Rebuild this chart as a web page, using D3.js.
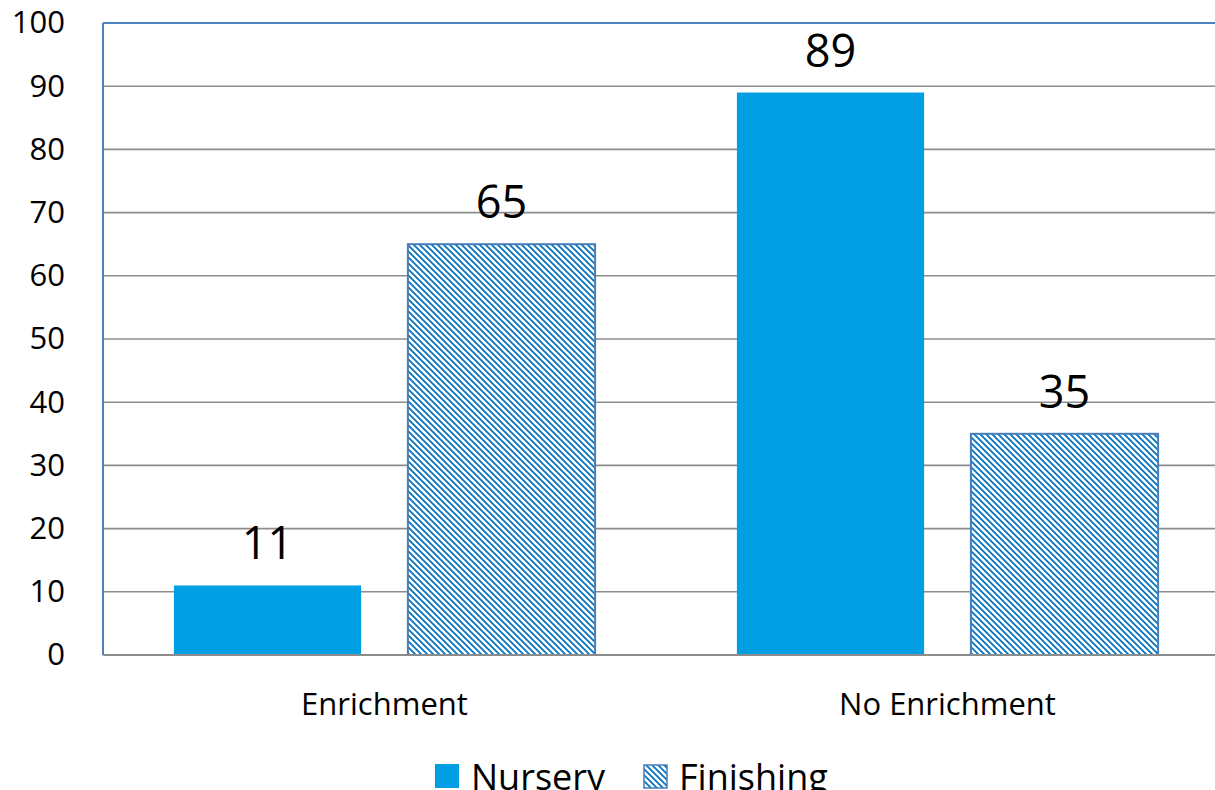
<!DOCTYPE html>
<html>
<head>
<meta charset="utf-8">
<script src="https://cdn.jsdelivr.net/npm/d3@7"></script>
<style>
  body { margin: 0; background: #fff; }
  text { font-family: "Open Sans", sans-serif; fill: #000; }
</style>
</head>
<body>
<div class="plot"></div>
<script>
// data
const categories = ["Enrichment", "No Enrichment"];
const seriesNames = ["Nursery", "Finishing"];
const nursery = [11, 89];
const finishing = [65, 35];
const yTicks = [0, 10, 20, 30, 40, 50, 60, 70, 80, 90, 100];

const W = 1215, H = 790;
const plot = {left: 103, top: 23, bottom: 655, catWidth: 563};

const svg = d3.select(".plot")
    .append("svg")
        .attr("width", W)
        .attr("height", H);

// hatch pattern for the Finishing bars
const defs = svg.append("defs");
const pat = defs.append("pattern")
    .attr("id", "hatch")
    .attr("patternUnits", "userSpaceOnUse")
    .attr("width", 6)
    .attr("height", 6);
pat.append("rect").attr("width", 6).attr("height", 6).attr("fill", "#fff");
pat.append("path")
    .attr("d", "M-1,-1 L7,7 M-4,2 L2,8 M4,-2 L8,2")
    .attr("stroke", "#0070c0")
    .attr("stroke-width", 1.7);

// scales
const x0 = d3.scaleBand()
    .domain(categories)
    .range([plot.left, plot.left + plot.catWidth * categories.length]);

const x1 = d3.scaleBand()
    .domain(seriesNames)
    .range([0, x0.bandwidth()])
    .paddingInner(0.2)
    .paddingOuter(0.303);

const y = d3.scaleLinear()
    .domain([0, 100])
    .range([plot.bottom, plot.top]);

const plotRight = x0.range()[1];

// gridlines
svg.append("g")
    .selectAll("line")
    .data(yTicks.filter(d => d > 0 && d < 100))
    .enter()
    .append("line")
        .attr("x1", plot.left)
        .attr("x2", plotRight)
        .attr("y1", d => y(d))
        .attr("y2", d => y(d))
        .attr("stroke", "#8c8c8c")
        .attr("stroke-width", 1.6);

// plot area border (top + left, blue)
svg.append("line")
    .attr("x1", plot.left).attr("x2", plotRight)
    .attr("y1", y(100)).attr("y2", y(100))
    .attr("stroke", "#4f81bd").attr("stroke-width", 2);
svg.append("line")
    .attr("x1", plot.left).attr("x2", plot.left)
    .attr("y1", y(100)).attr("y2", y(0))
    .attr("stroke", "#4f81bd").attr("stroke-width", 2);

// y axis labels
const yAxis = svg.append("g")
    .attr("transform", "translate(" + plot.left + ",0)")
    .call(d3.axisLeft(y).tickValues(yTicks).tickSize(0).tickPadding(38));
yAxis.select(".domain").remove();
yAxis.selectAll("text")
    .style("font-size", "31px")
    .style("font-family", "'Open Sans', sans-serif")
    .attr("fill", "#000");

// bars
const rows = categories.map((c, i) => ({cat: c, values: [nursery[i], finishing[i]]}));

const groups = svg.selectAll(".cat")
    .data(rows)
    .enter()
    .append("g")
        .attr("class", "cat")
        .attr("transform", d => "translate(" + x0(d.cat) + ",0)");

groups.selectAll("rect")
    .data(d => d.values.map((v, j) => ({s: seriesNames[j], v: v})))
    .enter()
    .append("rect")
        .attr("x", d => x1(d.s))
        .attr("y", d => y(d.v))
        .attr("width", x1.bandwidth())
        .attr("height", d => y(0) - y(d.v))
        .attr("fill", d => d.s === "Nursery" ? "#009fe3" : "url(#hatch)")
        .attr("stroke", d => d.s === "Nursery" ? "none" : "#4a7ebb")
        .attr("stroke-width", 2);

// value labels
groups.selectAll(".val")
    .data(d => d.values.map((v, j) => ({s: seriesNames[j], v: v})))
    .enter()
    .append("text")
        .attr("class", "val")
        .attr("x", d => x1(d.s) + x1.bandwidth() / 2)
        .attr("y", d => y(d.v) - 26)
        .attr("text-anchor", "middle")
        .style("font-size", "45px")
        .text(d => d.v);

// x axis line (gray)
svg.append("line")
    .attr("x1", plot.left).attr("x2", plotRight)
    .attr("y1", y(0)).attr("y2", y(0))
    .attr("stroke", "#8c8c8c").attr("stroke-width", 2);

// category labels
svg.selectAll(".catlabel")
    .data(categories)
    .enter()
    .append("text")
        .attr("class", "catlabel")
        .attr("x", d => x0(d) + x0.bandwidth() / 2)
        .attr("y", 715)
        .attr("text-anchor", "middle")
        .style("font-size", "31px")
        .text(d => d);

// legend
const legend = svg.append("g").attr("transform", "translate(435,764)");
const legendX = [0, 208];
seriesNames.forEach((s, i) => {
    legend.append("rect")
        .attr("x", legendX[i] + (i ? 1 : 0))
        .attr("y", i ? 1 : 0)
        .attr("width", i ? 23 : 24)
        .attr("height", i ? 23 : 24)
        .attr("fill", i ? "url(#hatch)" : "#009fe3")
        .attr("stroke", i ? "#4a7ebb" : "none")
        .attr("stroke-width", 1.5);
    legend.append("text")
        .attr("x", legendX[i] + 36)
        .attr("y", 26)
        .style("font-size", "36px")
        .text(s);
});
</script>
</body>
</html>
